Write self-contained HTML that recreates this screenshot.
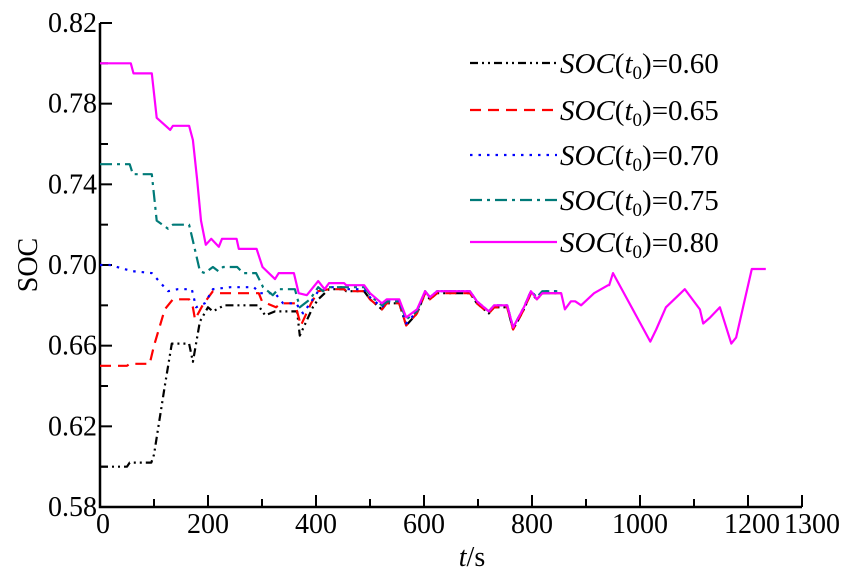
<!DOCTYPE html>
<html><head><meta charset="utf-8"><style>
html,body{margin:0;padding:0;background:#fff;}
svg, svg text{font-family:"Liberation Serif","DejaVu Serif",serif;}
</style></head><body>
<svg id="chart" width="850" height="575" viewBox="0 0 850 575" font-family="Liberation Serif, serif">
<g id="axes"></g>
<g id="plot"></g>
<g id="legend"></g>
</svg>
<script>
const xTicks=[0,200,400,600,800,1000,1200,1300];
const yTicks=[0.58,0.62,0.66,0.70,0.74,0.78,0.82];
const tailT=[424,452,456,489,500,522,531,554,567,587,602,611,624,685,698,720,730,754,765,785,798,809,819,854];
const tailV=[0.688,0.688,0.687,0.687,0.683,0.678,0.681,0.681,0.670,0.676,0.686,0.683,0.686,0.686,0.681,0.676,0.679,0.679,0.668,0.678,0.686,0.683,0.686,0.686];
const t60=[0,50,55,95,100,120,133,165,172,185,200,209,230,293,306,324,365,370,394,404];
const v60=[0.600,0.600,0.602,0.602,0.606,0.640,0.661,0.661,0.652,0.672,0.679,0.677,0.680,0.680,0.675,0.677,0.677,0.665,0.679,0.683];
const t65=[0,50,55,92,100,120,135,165,172,176,190,209,222,294,300,326,335,361,372,391,404];
const v65=[0.650,0.650,0.651,0.651,0.660,0.678,0.683,0.683,0.679,0.673,0.680,0.687,0.686,0.686,0.682,0.679,0.681,0.681,0.670,0.681,0.687];
const t70=[0,18,59,96,126,144,170,178,194,209,241,285,296,324,339,363,376,389,404];
const v70=[0.700,0.700,0.697,0.696,0.687,0.688,0.688,0.679,0.681,0.688,0.689,0.689,0.686,0.686,0.681,0.681,0.676,0.681,0.687];
const t75=[0,55,61,96,105,126,135,165,172,185,194,209,219,228,254,265,289,302,320,330,361,370,389,404,413,422,489,504,522,533,554,567,587,602];
const v75=[0.750,0.750,0.745,0.745,0.722,0.718,0.720,0.720,0.712,0.697,0.696,0.699,0.697,0.699,0.699,0.696,0.696,0.689,0.685,0.688,0.688,0.679,0.683,0.689,0.687,0.689,0.689,0.684,0.680,0.682,0.682,0.673,0.677,0.687];
const t80=[0,57,62,96,105,130,135,165,172,180,187,196,206,220,226,253,257,290,301,324,331,359,368,383,404,416,424,452,456,489,500,522,531,554,567,587,602,611,624,685,698,720,730,754,765,785,798,809,819,854,861,872,880,891,915,941,943,950,1019,1030,1048,1083,1111,1117,1130,1148,1169,1178,1207,1233];
const v80=[0.800,0.800,0.795,0.795,0.773,0.767,0.769,0.769,0.762,0.742,0.722,0.710,0.713,0.709,0.713,0.713,0.708,0.708,0.699,0.693,0.696,0.696,0.686,0.685,0.692,0.688,0.691,0.691,0.690,0.690,0.686,0.681,0.683,0.683,0.674,0.678,0.687,0.684,0.687,0.687,0.682,0.677,0.680,0.680,0.669,0.679,0.687,0.683,0.686,0.686,0.678,0.682,0.682,0.680,0.686,0.690,0.690,0.696,0.662,0.668,0.679,0.688,0.678,0.671,0.674,0.679,0.661,0.664,0.698,0.698];
const labels=["0.60","0.65","0.70","0.75","0.80"];

const NS="http://www.w3.org/2000/svg";
const FF='Liberation Serif, serif';
const X0=100,X1=802,Y0=507,Y1=23;
function xs(t){return X0+(t/1300)*(X1-X0);}
function ys(v){return Y0-(v-0.58)/(0.24)*(Y0-Y1);}
function mk(tag,attrs,parent){const e=document.createElementNS(NS,tag);for(const k in attrs)e.setAttribute(k,attrs[k]);parent.appendChild(e);return e;}
const axes=document.getElementById('axes'),plot=document.getElementById('plot'),legend=document.getElementById('legend');

let ax=mk('path',{d:`M${X0},${Y1}V${Y0}H${X1}`,stroke:'#000','stroke-width':2.5,fill:'none'},axes);


for(let t=0;t<=1300;t+=100){
  const major=(t%200===0)||t===1300;
  let tk=mk('line',{x1:xs(t),x2:xs(t),y1:Y0,y2:Y0-(major?12:8),stroke:'#000','stroke-width':2},axes);
  
  
}
for(let i=0;i<=12;i++){
  const v=0.58+i*0.02;
  let tk=mk('line',{x1:X0,x2:X0+(i%2===0?12:8),y1:ys(v),y2:ys(v),stroke:'#000','stroke-width':2},axes);
  
  
}
xTicks.forEach(t=>{
  const off=t===1300?10:(t===1200?4:(t===0?3:0));
  let tx=mk('text',{x:xs(t)+off,y:533,'text-anchor':'middle','font-size':28,'font-family':FF},axes);
  tx.textContent=String(t);
  
  
});
yTicks.forEach(v=>{
  let tx=mk('text',{x:97,y:ys(v)+9,'text-anchor':'end','font-size':28,'font-family':FF},axes);
  tx.textContent=v.toFixed(2);
  
  
});
let xt=mk('text',{x:472,y:566,'text-anchor':'middle','font-size':28,'font-family':FF},axes);
xt.innerHTML='<tspan font-style="italic">t</tspan>/s';


let yt=mk('text',{x:0,y:0,'text-anchor':'middle','font-size':28,'font-family':FF,transform:'translate(37,265) rotate(-90)'},axes);
yt.textContent='SOC';



const styles=[
 {c:'#000',d:'8 4 2 4 2 4'},
 {c:'#ff0000',d:'11 7'},
 {c:'#0000ff',d:'2.5 6'},
 {c:'#007a78',d:'12 5 3 5'},
 {c:'#ff00ff',d:''}
];
function path(T,V){return T.map((t,i)=>(i?'L':'M')+xs(t).toFixed(1)+','+ys(V[i]).toFixed(1)).join('');}
const series=[[t60.concat(tailT),v60.concat(tailV)],[t65.concat(tailT),v65.concat(tailV)],[t70.concat(tailT),v70.concat(tailV.map(v=>v+0.001))],[t75.concat(tailT.slice(11)),v75.concat(tailV.slice(11).map(v=>v+0.001))],[t80,v80]];
series.forEach((s,i)=>{
  let p=mk('path',{d:path(s[0],s[1]),stroke:styles[i].c,'stroke-width':2.2,fill:'none','stroke-dasharray':styles[i].d,'stroke-linejoin':'round'},plot);
  
  
});
const ly=[63,110,155,200,242];
labels.forEach((lb,i)=>{
  let l=mk('line',{x1:470,x2:557,y1:ly[i],y2:ly[i],stroke:styles[i].c,'stroke-width':2.2,'stroke-dasharray':styles[i].d},legend);
  
  
  let tx=mk('text',{x:560,y:ly[i]+10,'font-size':29,'font-family':FF},legend);
  tx.innerHTML='<tspan font-style="italic">SOC</tspan>(<tspan font-style="italic">t</tspan><tspan font-size="19" dy="6">0</tspan><tspan dy="-6">)=</tspan>'+lb;
  
  
});
</script>
</body></html>
